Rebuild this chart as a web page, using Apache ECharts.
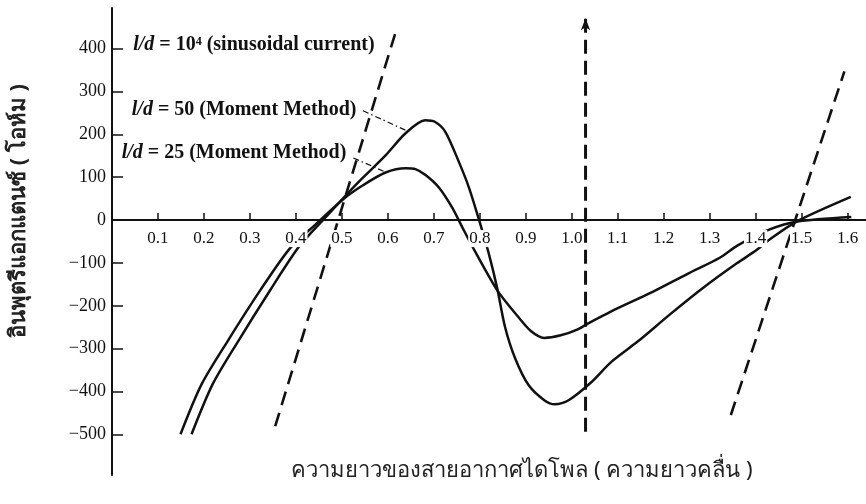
<!DOCTYPE html>
<html>
<head>
<meta charset="utf-8">
<script src="https://cdn.jsdelivr.net/npm/echarts@6/dist/echarts.min.js"></script>
<style>
  html, body { margin: 0; padding: 0; background: #fff; }
  #chart { width: 866px; height: 504px; }
</style>
</head>
<body>
<div id="chart"></div>
<script>
// Input reactance of a centre-fed dipole (ohms) against its length (wavelengths)

const xTickValues = [0.1, 0.2, 0.3, 0.4, 0.5, 0.6, 0.7, 0.8, 0.9, 1.0, 1.1, 1.2, 1.3, 1.4, 1.5, 1.6];
const yTickValues = [-500, -400, -300, -200, -100, 0, 100, 200, 300, 400];

// l/d = 10^4, sinusoidal current assumption (three dashed branches)
const sinusoidalLow = [[0.355, -481], [0.48, -42], [0.619, 446]];
const sinusoidalPole = [[1.03, -494], [1.03, 471]];
const sinusoidalHigh = [[1.346, -455], [1.49, 13], [1.593, 347]];

// l/d = 25, moment method
const momentLd25 = [
  [0.149, -500], [0.195, -383], [0.253, -280], [0.323, -163], [0.387, -66],
  [0.443, -10], [0.501, 47], [0.544, 80], [0.595, 111], [0.639, 121],
  [0.660, 119], [0.682, 105], [0.711, 76], [0.740, 29], [0.762, -17],
  [0.789, -72], [0.838, -164], [0.882, -224], [0.911, -259], [0.940, -275],
  [0.976, -269], [1.013, -255], [1.041, -238], [1.084, -214], [1.177, -167],
  [1.251, -126], [1.322, -88], [1.361, -59], [1.428, -23], [1.488, -4],
  [1.608, 7]
];

// l/d = 50, moment method
const momentLd50 = [
  [0.173, -500], [0.219, -383], [0.276, -280], [0.345, -162], [0.404, -66],
  [0.443, -18], [0.473, 16], [0.501, 49], [0.543, 96], [0.595, 151],
  [0.638, 202], [0.681, 233], [0.703, 229], [0.725, 206], [0.754, 137],
  [0.776, 77], [0.799, -2], [0.820, -80], [0.838, -160], [0.855, -250],
  [0.877, -323], [0.906, -385], [0.941, -421], [0.963, -430], [0.994, -420],
  [1.043, -378], [1.086, -331], [1.144, -283], [1.215, -219], [1.286, -158],
  [1.359, -101], [1.402, -70], [1.428, -47], [1.488, -4], [1.607, 54]
];

// Leader lines from the annotations to their curves
const leaderLd50 = [[0.546, 255], [0.640, 209]];
const leaderLd25 = [[0.525, 145], [0.597, 111]];

// Annotation texts and their anchor points (data coordinates)
const noteSinusoidal = { at: [0.046, 410], text: '{i|l/d} = 10⁴ (sinusoidal current)' };
const noteLd50 = { at: [0.043, 257], text: '{i|l/d} = 50 (Moment Method)' };
const noteLd25 = { at: [0.021, 158], text: '{i|l/d} = 25 (Moment Method)' };

const xTitle = 'ความยาวของสายอากาศไดโพล ( ความยาวคลื่น )';
const yTitle = 'อินพุตรีแอกแตนซ์ ( โอห์ม )';

const INK = '#111';
const SERIF = '"Liberation Serif", "DejaVu Serif", serif';
const NOTE_SIZE = 20;

const chart = echarts.init(document.getElementById('chart'), null, { renderer: 'canvas' });

function curve(name, data) {
  return {
    name, type: 'line', data, smooth: 0.28, showSymbol: false, silent: true,
    lineStyle: { color: INK, width: 2.5 }, z: 3
  };
}
function dashed(name, data, extra) {
  return Object.assign({
    name, type: 'line', data, showSymbol: false, silent: true,
    lineStyle: { color: INK, width: 2.6, type: [14, 8] }, z: 3
  }, extra || {});
}
function leader(name, data) {
  return {
    name, type: 'line', data, showSymbol: false, silent: true,
    lineStyle: { color: INK, width: 1.2, type: [6, 3, 1.5, 3] }, z: 3
  };
}

const GRID = { left: 112, right: 0, top: 8, bottom: 29 };

chart.setOption({
  animation: false,
  backgroundColor: '#fff',
  grid: GRID,
  xAxis: {
    type: 'value', min: 0, max: 1.64, z: 10,
    axisLine: { onZero: false, lineStyle: { color: INK, width: 2 } },
    axisTick: { inside: true, length: 7, customValues: xTickValues, lineStyle: { color: INK, width: 1.5 } },
    axisLabel: {
      customValues: xTickValues, margin: 10,
      formatter: v => v.toFixed(1),
      fontFamily: SERIF, fontSize: 17, color: INK,
      backgroundColor: '#fff', padding: [0, 1, 0, 1]
    },
    splitLine: { show: false }
  },
  yAxis: {
    type: 'value', min: -595, max: 495,
    axisLine: { lineStyle: { color: INK, width: 2 } },
    axisTick: { inside: true, length: 11, customValues: yTickValues, lineStyle: { color: INK, width: 1.5 } },
    axisLabel: {
      customValues: yTickValues, margin: 6,
      formatter: v => (v < 0 ? '−' + Math.abs(v) : String(v)),
      fontFamily: SERIF, fontSize: 18, color: INK
    },
    splitLine: { show: false }
  },
  series: [
    dashed('sinusoidal-low', sinusoidalLow),
    dashed('sinusoidal-pole', sinusoidalPole.map((p, i) => i === 1
      ? { value: p, symbol: 'arrow', symbolSize: [7, 12] }
      : { value: p, symbol: 'none' }), {
      showSymbol: true, symbol: 'none', itemStyle: { color: INK },
      lineStyle: { color: INK, width: 3, type: [14, 7] }
    }),
    dashed('sinusoidal-high', sinusoidalHigh),
    curve('l/d = 25', momentLd25),
    curve('l/d = 50', momentLd50),
    leader('leader-50', leaderLd50),
    leader('leader-25', leaderLd25)
  ]
});

// Move the length axis (line, ticks and labels) up to the zero-reactance level
const zeroY = chart.convertToPixel({ yAxisIndex: 0 }, 0);
const gridBottom = chart.getHeight() - GRID.bottom;
chart.setOption({ xAxis: { offset: zeroY - gridBottom } });

// Text placed from data coordinates once the grid is laid out
const rich = {
  i: { fontStyle: 'italic', fontFamily: SERIF, fontSize: NOTE_SIZE, fontWeight: 'bold', fill: INK }
};
function note(n) {
  const p = chart.convertToPixel({ gridIndex: 0 }, n.at);
  return {
    type: 'text', x: p[0], y: p[1], z: 20, silent: true,
    style: {
      text: n.text, rich, fill: INK, font: 'bold ' + NOTE_SIZE + 'px ' + SERIF,
      verticalAlign: 'middle', align: 'left'
    }
  };
}

chart.setOption({
  graphic: [
    note(noteSinusoidal),
    note(noteLd50),
    note(noteLd25),
    {
      type: 'text', x: 522, y: 471, silent: true,
      style: {
        text: xTitle, fill: '#222', font: '22px "Noto Sans", "DejaVu Sans", sans-serif',
        align: 'center', verticalAlign: 'middle'
      }
    },
    {
      type: 'text', x: 19, y: 211, rotation: Math.PI / 2, silent: true,
      style: {
        text: yTitle, fill: '#222', font: 'bold 22px "Noto Sans", "DejaVu Sans", sans-serif',
        align: 'center', verticalAlign: 'middle'
      }
    }
  ]
});
</script>
</body>
</html>
